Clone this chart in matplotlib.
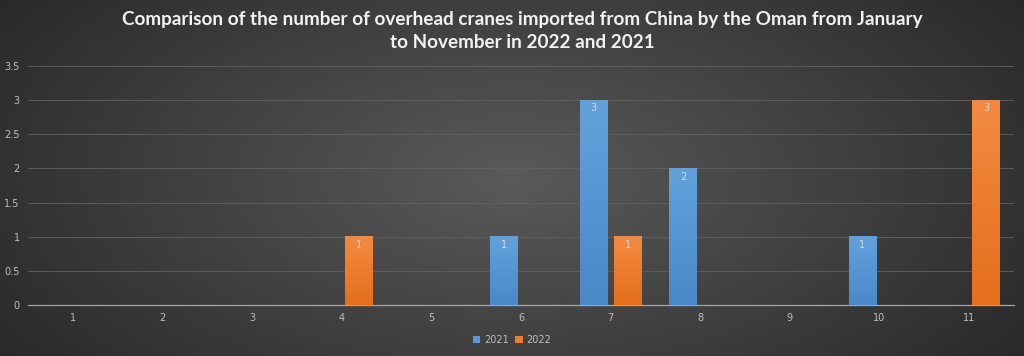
import numpy as np
import matplotlib
matplotlib.use("Agg")
import matplotlib.pyplot as plt
from matplotlib.colors import LinearSegmentedColormap

months = ["1", "2", "3", "4", "5", "6", "7", "8", "9", "10", "11"]
v2021 = [0, 0, 0, 0, 0, 1, 3, 2, 0, 1, 0]
v2022 = [0, 0, 0, 1, 0, 0, 1, 0, 0, 0, 3]
series_names = ["2021", "2022"]
yticks = [0, 0.5, 1, 1.5, 2, 2.5, 3, 3.5]
title = ("Comparison of the number of overhead cranes imported from China by the Oman from January\n"
         "to November in 2022 and 2021")

W, H = 1024, 356
fig = plt.figure(figsize=(W / 100, H / 100), dpi=100)

# radial gradient background
bg = fig.add_axes([0, 0, 1, 1], zorder=-10)
yy, xx = np.mgrid[0:H, 0:W]
d = np.sqrt(((xx - W * 0.5) / (W * 0.62)) ** 2 + ((yy - H * 0.5) / (H * 0.9)) ** 2)
d = np.clip(d, 0, 1)
c_in = np.array([0x5a, 0x5a, 0x5a]) / 255
c_out = np.array([0x28, 0x28, 0x28]) / 255
img = c_in[None, None, :] * (1 - d[..., None]) + c_out[None, None, :] * d[..., None]
bg.imshow(img, aspect="auto", extent=[0, 1, 0, 1], origin="upper")
bg.axis("off")

ax = fig.add_axes([28 / W, 1 - 305 / H, (1014 - 28) / W, (305 - 66) / H])
ax.patch.set_alpha(0)
x = np.arange(len(months))
w = 0.31
off = 0.19
b1 = ax.bar(x - off, v2021, w, color="#5b9bd5", label=series_names[0], zorder=3)
b2 = ax.bar(x + off, v2022, w, color="#ed7d31", label=series_names[1], zorder=3)

blue_cm = LinearSegmentedColormap.from_list("b", ["#4a88c9", "#62a2dc"])
orange_cm = LinearSegmentedColormap.from_list("o", ["#e46f1c", "#f48a42"])
grad = np.linspace(0, 1, 256).reshape(-1, 1)
for bars, cm in ((b1, blue_cm), (b2, orange_cm)):
    for r in bars:
        h = r.get_height()
        if h <= 0:
            continue
        x0 = r.get_x()
        ax.imshow(grad, cmap=cm, aspect="auto", origin="lower",
                  extent=[x0, x0 + r.get_width(), 0, h], zorder=4)
        ax.text(x0 + r.get_width() / 2, h - 0.12, f"{h:g}", ha="center", va="center",
                fontsize=7, color="#d9d9d9", zorder=5)

ax.set_xlim(-0.5, len(months) - 0.5)
ax.set_ylim(0, 3.5)
ax.set_yticks(yticks)
ax.set_yticklabels([f"{t:g}" for t in yticks])
ax.set_xticks(x)
ax.set_xticklabels(months)
ax.tick_params(axis="both", length=0, labelsize=7, colors="#bfbfbf", pad=6)
ax.grid(axis="y", color="#626262", linewidth=0.6, zorder=0)
for s in ("top", "right", "left"):
    ax.spines[s].set_visible(False)
ax.spines["bottom"].set_color("#a6a6a6")
ax.spines["bottom"].set_linewidth(0.9)

leg = fig.legend(handles=[b1, b2], labels=series_names, loc="center",
                 bbox_to_anchor=(512 / W, 1 - 340 / H), ncol=2, frameon=False,
                 fontsize=7, labelcolor="#bfbfbf", handlelength=0.8, handleheight=0.8,
                 handletextpad=0.4, columnspacing=0.6)

fig.text(0.51, 1 - 31 / H, title, ha="center", va="center", fontsize=13.6,
         fontweight="bold", color="#f2f2f2", family="Lato", linespacing=1.5)

fig.savefig("out.png", dpi=100)
